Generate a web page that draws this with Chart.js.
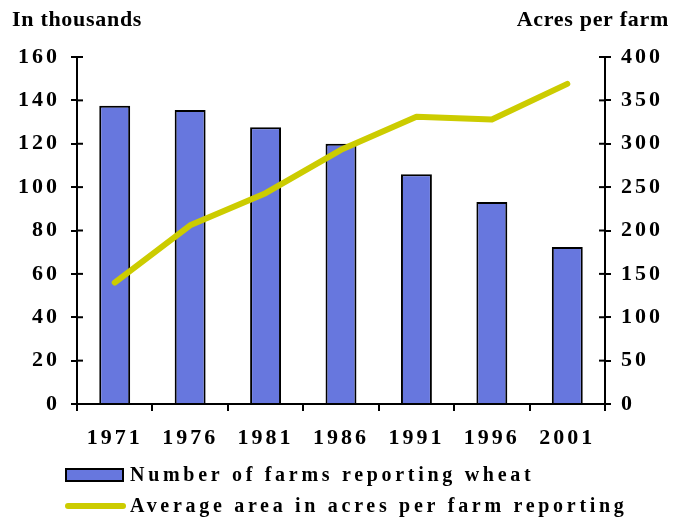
<!DOCTYPE html>
<html>
<head>
<meta charset="utf-8">
<script src="https://cdn.jsdelivr.net/npm/chart.js@4/dist/chart.umd.min.js"></script>
<style>
  html, body { margin: 0; padding: 0; background: #fff; }
  #wrap { width: 680px; height: 524px; position: relative; }
</style>
</head>
<body>
<div id="wrap"><canvas id="wheatChart"></canvas></div>
<script>
// Wheat farms, Canada census years
const years = ["1971", "1976", "1981", "1986", "1991", "1996", "2001"];
const farmsThousands = [137.5, 135.6, 127.6, 120.0, 105.9, 93.1, 72.4];
const acresPerFarm = [140, 206, 243, 293, 331, 328, 369];

const leftTitle = "In thousands";
const rightTitle = "Acres per farm";
const barLabel = "Number of farms reporting wheat";
const lineLabel = "Average area in acres per farm reporting";

const FONT = "'Liberation Serif', 'Times New Roman', serif";
const BAR_COLOR = "rgb(103, 119, 222)";
const LINE_COLOR = "rgb(204, 204, 0)";

// Extra drawing: top titles, tick marks crossing the y axes, legend, letter spacing
const extrasPlugin = {
  id: "extras",
  beforeDraw(chart) {
    chart.ctx.letterSpacing = "3px";
  },
  afterDraw(chart) {
    const ctx = chart.ctx;
    const { y, y1 } = chart.scales;

    // inner half of the crossing ticks
    ctx.save();
    ctx.strokeStyle = "#000";
    ctx.lineWidth = 2;
    [[y, 1], [y1, -1]].forEach(([scale, dir]) => {
      const ax = dir === 1 ? scale.right : scale.left;
      scale.ticks.forEach((t) => {
        const py = scale.getPixelForValue(t.value);
        ctx.beginPath();
        ctx.moveTo(ax, py);
        ctx.lineTo(ax + dir * 6, py);
        ctx.stroke();
      });
    });
    ctx.restore();

    // axis titles along the top
    ctx.save();
    ctx.letterSpacing = "0.7px";
    ctx.fillStyle = "#000";
    ctx.font = "bold 22px " + FONT;
    ctx.textBaseline = "alphabetic";
    ctx.textAlign = "left";
    ctx.fillText(leftTitle, 12, 26);
    ctx.textAlign = "right";
    ctx.fillText(rightTitle, 669, 26);
    ctx.restore();

    // legend
    const ds = chart.data.datasets;
    ctx.save();
    ctx.letterSpacing = "3.7px";
    ctx.font = "bold 20px " + FONT;
    ctx.fillStyle = "#000";
    ctx.textBaseline = "middle";
    ctx.textAlign = "left";

    ctx.fillStyle = ds[0].backgroundColor;
    ctx.fillRect(66, 469, 57, 12);
    ctx.strokeStyle = "#000";
    ctx.lineWidth = 2;
    ctx.strokeRect(66, 469, 57, 12);
    ctx.fillStyle = "#000";
    ctx.fillText(ds[0].label, 130, 476);

    ctx.beginPath();
    ctx.strokeStyle = ds[1].borderColor;
    ctx.lineWidth = 6;
    ctx.lineCap = "round";
    ctx.moveTo(68, 506);
    ctx.lineTo(123, 506);
    ctx.stroke();
    ctx.fillText(ds[1].label, 130, 507);
    ctx.restore();
  },
};

new Chart(document.getElementById("wheatChart"), {
  type: "bar",
  data: {
    labels: years,
    datasets: [
      {
        type: "bar",
        label: barLabel,
        data: farmsThousands,
        yAxisID: "y",
        backgroundColor: BAR_COLOR,
        borderColor: "#000",
        borderWidth: 2,
        barPercentage: 0.41,
        categoryPercentage: 1,
        order: 2,
      },
      {
        type: "line",
        label: lineLabel,
        data: acresPerFarm,
        yAxisID: "y1",
        borderColor: LINE_COLOR,
        backgroundColor: LINE_COLOR,
        borderWidth: 6,
        borderCapStyle: "round",
        borderJoinStyle: "round",
        pointRadius: 0,
        tension: 0,
        order: 1,
      },
    ],
  },
  options: {
    responsive: true,
    maintainAspectRatio: false,
    animation: false,
    layout: { padding: { top: 57, bottom: 0, left: 0, right: 0 } },
    plugins: {
      legend: { display: false },
      tooltip: { enabled: false },
    },
    scales: {
      x: {
        offset: true,
        grid: {
          offset: true,
          drawOnChartArea: false,
          drawTicks: true,
          tickLength: 7,
          color: "#000",
          lineWidth: 2,
        },
        border: { display: true, color: "#000", width: 2 },
        ticks: {
          color: "#000",
          padding: 14,
          maxRotation: 0,
          font: { family: FONT, size: 22, weight: "bold" },
        },
        afterFit: (scale) => { scale.height = 120; },
      },
      y: {
        position: "left",
        min: 0,
        max: 160,
        ticks: {
          stepSize: 20,
          color: "#000",
          padding: 11,
          font: { family: FONT, size: 22, weight: "bold" },
        },
        grid: {
          drawOnChartArea: false,
          tickLength: 6,
          color: "#000",
          lineWidth: 2,
        },
        border: { display: true, color: "#000", width: 2 },
        afterFit: (scale) => { scale.width = 77; },
      },
      y1: {
        position: "right",
        min: 0,
        max: 400,
        ticks: {
          stepSize: 50,
          color: "#000",
          padding: 10,
          font: { family: FONT, size: 22, weight: "bold" },
        },
        grid: {
          drawOnChartArea: false,
          tickLength: 6,
          color: "#000",
          lineWidth: 2,
        },
        border: { display: true, color: "#000", width: 2 },
        afterFit: (scale) => { scale.width = 75; },
      },
    },
  },
  plugins: [extrasPlugin],
});
</script>
</body>
</html>
